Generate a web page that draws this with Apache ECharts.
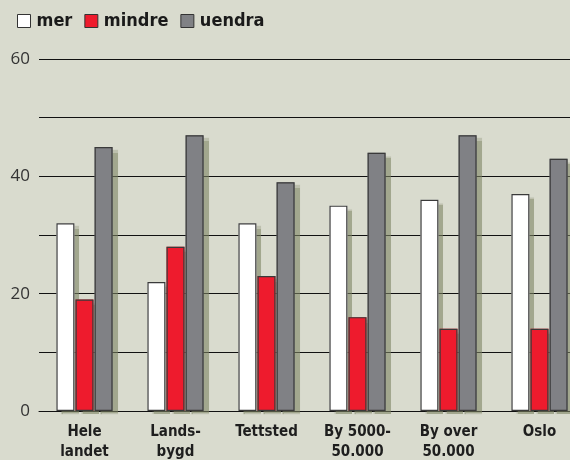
<!DOCTYPE html>
<html>
<head>
<meta charset="utf-8">
<script src="https://cdn.jsdelivr.net/npm/echarts@6/dist/echarts.min.js"></script>
<style>
  html, body { margin: 0; padding: 0; background: #d9dbce; }
  #chart { width: 570px; height: 460px; }
</style>
</head>
<body>
<div id="chart"></div>
<script>
var categories = ['Hele\nlandet', 'Lands-\nbygd', 'Tettsted', 'By 5000-\n50.000', 'By over\n50.000', 'Oslo'];
var mer = [32, 22, 32, 35, 36, 37];
var mindre = [19, 28, 23, 16, 14, 14];
var uendra = [45, 47, 39, 44, 47, 43];

var chart = echarts.init(document.getElementById('chart'));

// søyle med skygge (uten kant)
function fillBar(name, data, color) {
  return {
    name: name, type: 'bar', data: data, xAxisIndex: 0,
    barWidth: 18, barGap: '6%',
    itemStyle: {
      color: color,
      shadowColor: 'rgba(125,131,100,0.6)',
      shadowBlur: 1,
      shadowOffsetX: 5,
      shadowOffsetY: 3
    }
  };
}
// kantlinje oppå, på egen usynlig akse så plasseringen blir lik
function edgeBar(data) {
  return {
    type: 'bar', data: data, xAxisIndex: 1, silent: true,
    barWidth: 18, barGap: '6%',
    itemStyle: { color: 'transparent', borderColor: '#3a3a3a', borderWidth: 1.2 }
  };
}

var xLabel = {
  fontFamily: 'DejaVu Sans Condensed',
  fontWeight: 'bold',
  fontSize: 15,
  color: '#1e1e1e',
  lineHeight: 20,
  margin: 11,
  interval: 0
};

chart.setOption({
  backgroundColor: '#d9dbce',
  animation: false,
  legend: {
    left: 12,
    top: 7,
    itemWidth: 13,
    itemHeight: 13,
    itemGap: 12,
    icon: 'rect',
    itemStyle: { borderColor: '#333', borderWidth: 1 },
    textStyle: {
      fontFamily: 'DejaVu Sans Condensed',
      fontWeight: 'bold',
      fontSize: 18,
      color: '#1a1a1a',
      padding: [0, 0, 0, 1]
    },
    data: ['mer', 'mindre', 'uendra']
  },
  grid: { left: 39, top: 59, width: 546, height: 352, outerBoundsMode: 'none', containLabel: false },
  xAxis: [{
    type: 'category',
    data: categories,
    axisLine: { lineStyle: { color: '#111', width: 1 } },
    axisTick: { show: false },
    axisLabel: xLabel
  }, {
    type: 'category',
    data: categories,
    show: false
  }],
  yAxis: {
    type: 'value',
    min: 0,
    max: 60,
    interval: 10,
    axisLine: { show: false },
    axisTick: { show: false },
    splitLine: { lineStyle: { color: '#111', width: 1 } },
    axisLabel: {
      fontFamily: 'Open Sans',
      fontSize: 17,
      color: '#333',
      margin: 9,
      formatter: function (v) { return v % 20 === 0 ? v : ''; }
    }
  },
  series: [
    fillBar('mer', mer, '#ffffff'),
    fillBar('mindre', mindre, '#ee1b2d'),
    fillBar('uendra', uendra, '#808185'),
    edgeBar(mer),
    edgeBar(mindre),
    edgeBar(uendra)
  ]
});
</script>
</body>
</html>
